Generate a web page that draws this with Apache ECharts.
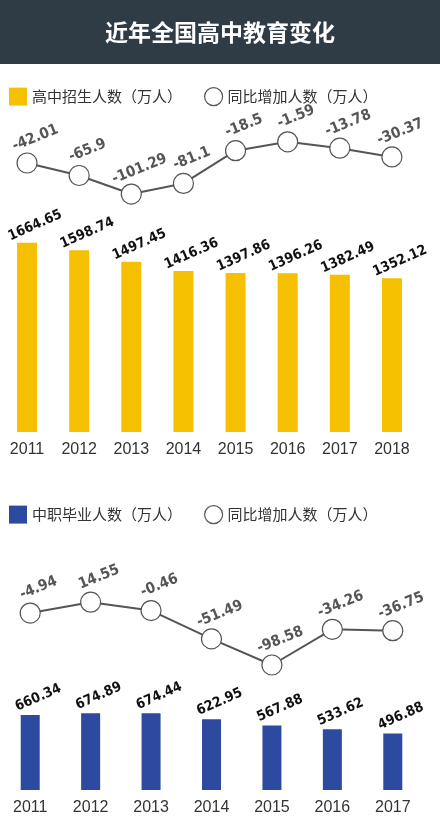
<!DOCTYPE html>
<html>
<head>
<meta charset="utf-8">
<script src="https://cdn.jsdelivr.net/npm/echarts@6/dist/echarts.min.js"></script>
<style>
html,body{margin:0;padding:0;background:#fff;}
#chart{width:440px;height:817px;}
</style>
</head>
<body>
<div id="chart"></div>
<script>
// 高中招生
var years1 = ['2011','2012','2013','2014','2015','2016','2017','2018'];
var enroll = [1664.65, 1598.74, 1497.45, 1416.36, 1397.86, 1396.26, 1382.49, 1352.12];
var enrollDiff = [-42.01, -65.9, -101.29, -81.1, -18.5, -1.59, -13.78, -30.37];
// 中职毕业
var years2 = ['2011','2012','2013','2014','2015','2016','2017'];
var grad = [660.34, 674.89, 674.44, 622.95, 567.88, 533.62, 496.88];
var gradDiff = [-4.94, 14.55, -0.46, -51.49, -98.58, -34.26, -36.75];

var chart = echarts.init(document.getElementById('chart'));

var numFont = 'DejaVu Sans Condensed';
var lineLabel = {
    show: true, position: 'top', distance: 3, rotate: 22, offset: [12, 0],
    fontFamily: numFont, fontWeight: 'bold', fontSize: 15, color: '#555',
    formatter: function (p) { return String(p.value); }
};
var barLabel = {
    show: true, position: 'top', distance: 6, rotate: 24, offset: [12, 0],
    fontFamily: numFont, fontWeight: 'bold', fontSize: 14, color: '#111',
    formatter: function (p) { return String(p.value); }
};
function lineSeries(idx, data) {
    return {
        name: '同比增加人数（万人）', type: 'line', xAxisIndex: idx, yAxisIndex: idx,
        data: data, symbol: 'circle', symbolSize: 20,
        lineStyle: {color: '#555', width: 2},
        itemStyle: {color: '#fff', borderColor: '#555', borderWidth: 1.2},
        label: lineLabel
    };
}
function catAxis(idx, data, showLabel) {
    return {
        type: 'category', gridIndex: idx, data: data,
        axisLine: {show: false}, axisTick: {show: false}, splitLine: {show: false},
        axisLabel: {show: showLabel, fontSize: 16, color: '#333', margin: 10, fontFamily: 'Liberation Sans'}
    };
}
function valAxis(idx, min, max) {
    return {type: 'value', gridIndex: idx, min: min, max: max, show: false, splitLine: {show: false}};
}
var legendText = {fontSize: 15, color: '#333', fontFamily: 'Noto Sans CJK SC'};

var option = {
    backgroundColor: '#fff',
    animation: false,
    title: {
        text: '近年全国高中教育变化', left: 'center', top: 16,
        textStyle: {color: '#fff', fontSize: 23, fontWeight: 'bold', fontFamily: 'Noto Sans CJK SC'}
    },
    graphic: [{type: 'rect', z: -1, shape: {x: 0, y: 0, width: 440, height: 64}, style: {fill: '#2F3B45'}}],
    legend: [
        {top: 82, left: 4, itemGap: 22, itemWidth: 18, itemHeight: 18, textStyle: legendText,
         data: [{name: '高中招生人数（万人）', icon: 'rect'},
                {name: '同比增加人数（万人）', icon: 'circle', itemStyle: {color: '#fff', borderColor: '#555', borderWidth: 1.2}}]},
        {top: 500, left: 4, itemGap: 22, itemWidth: 18, itemHeight: 18, textStyle: legendText,
         data: [{name: '中职毕业人数（万人）', icon: 'rect'},
                {name: '同比增加人数（万人）', icon: 'circle', itemStyle: {color: '#fff', borderColor: '#555', borderWidth: 1.2}}]}
    ],
    grid: [
        {left: 1, width: 417, top: 141, height: 57.6},
        {left: 1, width: 417, top: 238.7, height: 193.3},
        {left: -3, width: 426, top: 599.2, height: 66.6},
        {left: -3, width: 426, top: 710.4, height: 79.6}
    ],
    xAxis: [catAxis(0, years1, false), catAxis(1, years1, true), catAxis(2, years2, false), catAxis(3, years2, true)],
    yAxis: [valAxis(0, -110, 0), valAxis(1, 0, 1700), valAxis(2, -100, 20), valAxis(3, 0, 700)],
    series: [
        lineSeries(0, enrollDiff),
        {name: '高中招生人数（万人）', type: 'bar', xAxisIndex: 1, yAxisIndex: 1, data: enroll,
         barWidth: 20, itemStyle: {color: '#F5C000'}, label: barLabel},
        lineSeries(2, gradDiff),
        {name: '中职毕业人数（万人）', type: 'bar', xAxisIndex: 3, yAxisIndex: 3, data: grad,
         barWidth: 19, itemStyle: {color: '#2B4AA0'}, label: barLabel}
    ]
};
chart.setOption(option);
</script>
</body>
</html>
